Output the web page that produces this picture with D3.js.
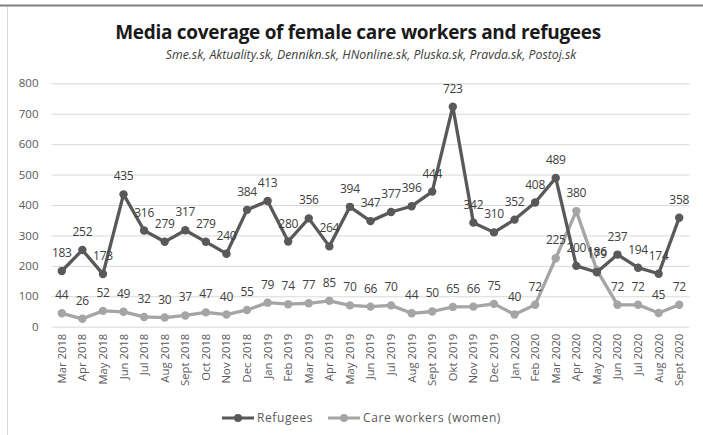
<!DOCTYPE html>
<html>
<head>
<meta charset="utf-8">
<script src="https://cdn.jsdelivr.net/npm/d3@7"></script>
<style>
  html, body { margin: 0; padding: 0; background: #fff; }
  svg { display: block; font-family: "Open Sans", "Noto Sans", sans-serif; }
</style>
</head>
<body>
<svg id="chart" width="703" height="435"></svg>
<script>
// Monthly article counts, Mar 2018 – Sept 2020
const months = ["Mar 2018","Apr 2018","May 2018","Jun 2018","Jul 2018","Aug 2018","Sept 2018","Oct 2018","Nov 2018","Dec 2018",
  "Jan 2019","Feb 2019","Mar 2019","Apr 2019","May 2019","Jun 2019","Jul 2019","Aug 2019","Sept 2019","Okt 2019","Nov 2019","Dec 2019",
  "Jan 2020","Feb 2020","Mar 2020","Apr 2020","May 2020","Jun 2020","Jul 2020","Aug 2020","Sept 2020"];
const refugees = [183,252,173,435,316,279,317,279,240,384,413,280,356,264,394,347,377,396,444,723,342,310,352,408,489,200,179,237,194,174,358];
const careWorkers = [44,26,52,49,32,30,37,47,40,55,79,74,77,85,70,66,70,44,50,65,66,75,40,72,225,380,186,72,72,45,72];
const yTicks = [0,100,200,300,400,500,600,700,800];

const series = [
  { name: "Refugees", values: refugees, color: "#595959" },
  { name: "Care workers (women)", values: careWorkers, color: "#a5a5a5" }
];

const svg = d3.select("#chart");
const W = 703, H = 435;
const plot = { left: 51.5, right: 689.5, top: 83.3, bottom: 326.7 };

// frame
svg.append("line").attr("x1", 0).attr("x2", W).attr("y1", 5.5).attr("y2", 5.5)
  .attr("stroke", "#7f7f7f").attr("stroke-width", 2);
svg.append("line").attr("x1", 7.5).attr("x2", 7.5).attr("y1", 7).attr("y2", H)
  .attr("stroke", "#d9d9d9").attr("stroke-width", 1);

// titles
svg.append("text").attr("x", 358).attr("y", 39).attr("text-anchor", "middle")
  .attr("font-size", 19).attr("font-weight", "bold").attr("fill", "#1a1a1a")
  .attr("font-family", "'Open Sans', sans-serif").attr("letter-spacing", -0.3)
  .text("Media coverage of female care workers and refugees");
svg.append("text").attr("x", 371).attr("y", 59).attr("text-anchor", "middle")
  .attr("font-size", 12.3).attr("font-style", "italic").attr("fill", "#404040")
  .text("Sme.sk, Aktuality.sk, Dennikn.sk, HNonline.sk, Pluska.sk,  Pravda.sk,  Postoj.sk");

const x = d3.scaleBand().domain(months).range([plot.left, plot.right]);
const y = d3.scaleLinear().domain([0, 800]).range([plot.bottom, plot.top]);
const cx = m => x(m) + x.bandwidth() / 2;

// horizontal gridlines + y labels
const yAxis = d3.axisLeft(y).tickValues(yTicks).tickSize(-(plot.right - plot.left)).tickPadding(13);
const gy = svg.append("g").attr("transform", `translate(${plot.left},0)`).call(yAxis);
gy.select(".domain").remove();
gy.selectAll(".tick line").attr("stroke", "#d9d9d9");
gy.selectAll(".tick text").attr("fill", "#595959").attr("font-size", 11.5)
  .attr("font-family", "'Open Sans', sans-serif");

// x labels, rotated
const xAxis = d3.axisBottom(x).tickSize(0).tickPadding(0);
const gx = svg.append("g").attr("transform", `translate(0,${plot.bottom})`).call(xAxis);
gx.select(".domain").remove();
gx.selectAll(".tick text")
  .attr("transform", "rotate(-90)")
  .attr("text-anchor", "end")
  .attr("x", -7).attr("y", 0).attr("dy", "0.35em")
  .attr("fill", "#595959").attr("font-size", 11.3)
  .attr("font-family", "'Open Sans', sans-serif");

const line = d3.line().x((d, i) => cx(months[i])).y(d => y(d));

// draw care workers first so refugees sits on top
[series[1], series[0]].forEach(s => {
  const g = svg.append("g");
  g.append("path").datum(s.values).attr("d", line)
    .attr("fill", "none").attr("stroke", s.color).attr("stroke-width", 3.3)
    .attr("stroke-linejoin", "round");
  g.selectAll("circle").data(s.values).join("circle")
    .attr("cx", (d, i) => cx(months[i])).attr("cy", d => y(d)).attr("r", 4.2)
    .attr("fill", s.color);
});

// value labels above points
series.forEach(s => {
  svg.append("g").selectAll("text").data(s.values).join("text")
    .attr("x", (d, i) => cx(months[i])).attr("y", d => y(d) - 14)
    .attr("text-anchor", "middle").attr("font-size", 12).attr("fill", "#404040")
    .attr("font-family", "'Open Sans', sans-serif").attr("letter-spacing", -0.3)
    .text(d => d);
});

// legend
const legend = svg.append("g").attr("transform", "translate(222,418)");
const items = [{ s: series[0], x: 0 }, { s: series[1], x: 106 }];
items.forEach(it => {
  const g = legend.append("g").attr("transform", `translate(${it.x},0)`);
  g.append("line").attr("x1", 0).attr("x2", 32).attr("y1", 0).attr("y2", 0)
    .attr("stroke", it.s.color).attr("stroke-width", 3);
  g.append("circle").attr("cx", 16).attr("cy", 0).attr("r", 4).attr("fill", it.s.color);
  g.append("text").attr("x", 35).attr("y", 0).attr("dy", "0.35em")
    .attr("font-size", 12).attr("fill", "#595959").attr("letter-spacing", 0.6)
    .attr("font-family", "'Open Sans', sans-serif").text(it.s.name);
});
</script>
</body>
</html>
